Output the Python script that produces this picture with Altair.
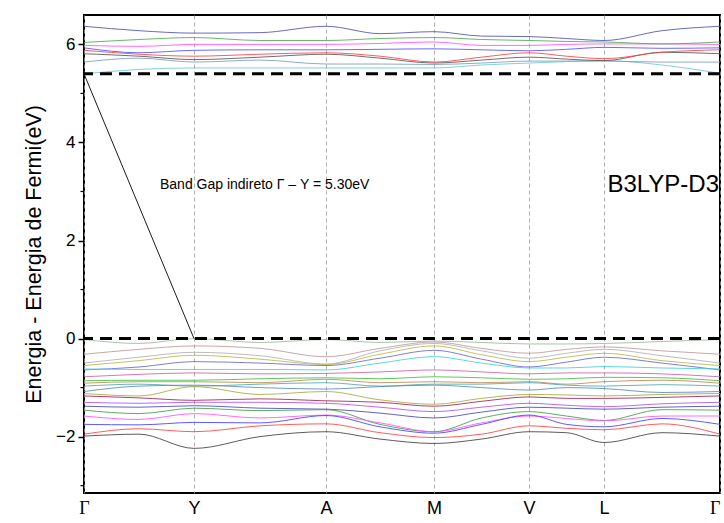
import altair as alt
import pandas as pd

# k-path positions (node + midpoints) and high-symmetry labels
k_points = [0, 55, 110, 176, 242, 296, 350, 397.5, 445, 482.5, 520, 578, 636]
sym_pos = [0, 110, 242, 350, 445, 520, 636]
sym_labels = ["Γ", "Y", "A", "M", "V", "L", "Γ"]

# conduction bands (eV), values at k_points
c1 = [5.40, 5.49, 5.52, 5.52, 5.52, 5.52, 5.52, 5.58, 5.62, 5.65, 5.67, 5.58, 5.41]
c2 = [5.64, 5.72, 5.64, 5.68, 5.60, 5.60, 5.59, 5.62, 5.66, 5.66, 5.66, 5.64, 5.64]
c3 = [5.81, 5.76, 5.69, 5.74, 5.80, 5.72, 5.62, 5.68, 5.74, 5.70, 5.67, 5.84, 5.81]
c4 = [5.88, 5.80, 5.76, 5.80, 5.83, 5.76, 5.64, 5.74, 5.83, 5.76, 5.71, 5.84, 5.89]
c5 = [5.93, 5.83, 5.88, 5.89, 5.89, 5.90, 5.91, 5.89, 5.87, 5.90, 5.94, 5.92, 5.93]
c6 = [5.98, 5.96, 6.00, 6.00, 6.00, 6.02, 6.05, 5.98, 5.98, 6.00, 6.01, 6.01, 6.00]
c7 = [6.04, 6.10, 6.14, 6.08, 6.08, 6.12, 6.14, 6.10, 6.08, 6.06, 6.05, 6.01, 6.05]
c8 = [6.37, 6.28, 6.23, 6.24, 6.37, 6.22, 6.26, 6.17, 6.16, 6.12, 6.08, 6.28, 6.37]

# valence bands (eV), values at k_points
v1 = [-0.02, -0.10, 0.00, -0.08, -0.02, -0.08, -0.05, -0.08, -0.11, -0.11, -0.10, -0.06, -0.02]
v2 = [-0.32, -0.22, -0.15, -0.20, -0.37, -0.20, -0.07, -0.20, -0.30, -0.22, -0.17, -0.25, -0.32]
v3 = [-0.50, -0.38, -0.28, -0.35, -0.52, -0.25, -0.10, -0.25, -0.40, -0.30, -0.22, -0.35, -0.50]
v4 = [-0.55, -0.45, -0.34, -0.42, -0.53, -0.32, -0.15, -0.33, -0.47, -0.38, -0.30, -0.45, -0.55]
v5 = [-0.64, -0.58, -0.47, -0.50, -0.55, -0.40, -0.24, -0.42, -0.58, -0.48, -0.38, -0.50, -0.64]
v6 = [-0.62, -0.63, -0.63, -0.63, -0.64, -0.50, -0.37, -0.50, -0.60, -0.60, -0.57, -0.60, -0.62]
v7 = [-0.78, -0.73, -0.70, -0.72, -0.71, -0.68, -0.64, -0.68, -0.72, -0.70, -0.70, -0.72, -0.78]
v8 = [-0.86, -0.85, -0.85, -0.82, -0.80, -0.82, -0.78, -0.80, -0.83, -0.82, -0.79, -0.80, -0.86]
v9 = [-0.91, -0.88, -0.88, -0.90, -0.83, -0.90, -0.88, -0.90, -0.88, -0.93, -0.88, -0.85, -0.91]
v10 = [-0.97, -0.93, -0.97, -0.93, -0.90, -0.97, -0.93, -0.93, -0.90, -0.95, -0.97, -0.94, -0.97]
v11 = [-1.08, -0.97, -0.95, -1.00, -1.03, -0.98, -0.95, -1.00, -1.05, -1.00, -1.02, -1.10, -1.08]
v12 = [-1.12, -1.17, -0.98, -1.14, -1.08, -1.25, -1.34, -1.22, -1.14, -1.15, -1.17, -1.14, -1.12]
v13 = [-1.17, -1.21, -1.26, -1.23, -1.27, -1.30, -1.38, -1.28, -1.19, -1.22, -1.22, -1.20, -1.17]
v14 = [-1.30, -1.32, -1.30, -1.30, -1.32, -1.40, -1.49, -1.40, -1.32, -1.36, -1.39, -1.33, -1.30]
v15 = [-1.38, -1.40, -1.37, -1.42, -1.44, -1.52, -1.62, -1.50, -1.40, -1.42, -1.44, -1.40, -1.38]
v16 = [-1.46, -1.53, -1.42, -1.47, -1.45, -1.75, -1.90, -1.62, -1.49, -1.58, -1.67, -1.45, -1.46]
v17 = [-1.58, -1.65, -1.53, -1.62, -1.56, -1.72, -1.90, -1.72, -1.58, -1.63, -1.68, -1.58, -1.58]
v18 = [-1.75, -1.76, -1.71, -1.72, -1.57, -1.80, -1.93, -1.75, -1.56, -1.75, -1.80, -1.63, -1.75]
v19 = [-1.95, -1.84, -1.90, -1.78, -1.74, -1.92, -2.02, -1.95, -1.78, -1.83, -1.86, -1.74, -1.95]
v20 = [-1.99, -1.95, -2.24, -2.00, -1.90, -2.05, -2.14, -2.05, -1.90, -1.92, -2.12, -1.92, -1.99]

bands = [v1, v2, v3, v4, v5, v6, v7, v8, v9, v10, v11, v12, v13, v14, v15, v16,
         v17, v18, v19, v20, c1, c2, c3, c4, c5, c6, c7, c8]
band_colors = ["#9cb89c", "#c09898", "#b0b0b0", "#b8b84a", "#6868c8", "#40d0d8",
               "#d060a0", "#40c040", "#c08850", "#50a8b0", "#5888c0", "#a8a840",
               "#a02050", "#b050f0", "#4848b8", "#40a040", "#ff50ff", "#4040ff",
               "#ff4040", "#404040",
               "#6ec6d8", "#7a9cc0", "#555555", "#ff4040", "#5050ff", "#ff50ff",
               "#50a850", "#5050b0"]

fermi_level = [0.0]
cbm_level = [5.40]
gap_k = [0, 110]
gap_e = [5.40, 0.0]
minor_ticks = [-3, -1, 1, 3, 5]

rows = []
for i, b in enumerate(bands):
    for k, e in zip(k_points, b):
        rows.append({"band": f"b{i:02d}", "k": k, "E": e})
df = pd.DataFrame(rows)
band_names = [f"b{i:02d}" for i in range(len(bands))]

xscale = alt.Scale(domain=[0, 636], nice=False, zero=False)
yscale = alt.Scale(domain=[-3.15, 6.6], nice=False, zero=False)

label_expr = ("datum.value == 0 || datum.value == 636 ? 'Γ' : datum.value == 110 ? 'Y' : "
              "datum.value == 242 ? 'A' : datum.value == 350 ? 'M' : "
              "datum.value == 445 ? 'V' : 'L'")

xaxis = alt.Axis(values=sym_pos, labelExpr=label_expr, title=None, grid=True,
                 gridDash=[4, 3], gridColor="#9a9a9a", gridWidth=0.8,
                 ticks=False, domain=False, labelFlush=False, labelFontSize=18,
                 labelColor="black", labelPadding=6,
                 labelAlign={"condition": {"test": "datum.value == 636", "value": "right"},
                             "value": "center"},
                 labelFont={"condition": {"test": "datum.value == 0 || datum.value == 636",
                                          "value": "Liberation Serif"},
                            "value": "Liberation Sans"})
yaxis = alt.Axis(values=[-2, 0, 2, 4, 6], title="Energia - Energia de Fermi(eV)",
                 grid=False, domain=False, tickSize=6, tickWidth=1.5, tickColor="black",
                 labelFontSize=17, labelFont="Liberation Sans", labelColor="black",
                 labelPadding=3, titleFontSize=21.5, titleFont="Liberation Sans",
                 titleFontWeight="normal", titleColor="black", titlePadding=10)

lines = alt.Chart(df).mark_line(interpolate="monotone", strokeWidth=1, opacity=0.85, clip=True).encode(
    x=alt.X("k:Q", scale=xscale, axis=xaxis),
    y=alt.Y("E:Q", scale=yscale, axis=yaxis),
    color=alt.Color("band:N", scale=alt.Scale(domain=band_names, range=band_colors), legend=None),
    detail="band:N",
)

hl_df = pd.DataFrame({"E": fermi_level + cbm_level})
hlines = alt.Chart(hl_df).mark_rule(color="black", strokeWidth=3, strokeDash=[12, 7]).encode(
    y=alt.Y("E:Q", scale=yscale),
)

gap_df = pd.DataFrame({"k": gap_k, "E": gap_e})
gap_line = alt.Chart(gap_df).mark_line(color="black", strokeWidth=0.9).encode(
    x=alt.X("k:Q", scale=xscale), y=alt.Y("E:Q", scale=yscale)
)

minor_df = pd.DataFrame({"E": minor_ticks})
minor = alt.Chart(minor_df).mark_rule(color="black", strokeWidth=1.2, clip=False).encode(
    y=alt.Y("E:Q", scale=yscale), x=alt.value(-3.5), x2=alt.value(0)
)

ann_df = pd.DataFrame({"k": [76], "E": [3.13], "t": ["Band Gap indireto Γ – Y = 5.30eV"]})
ann = alt.Chart(ann_df).mark_text(align="left", baseline="middle", fontSize=14,
                                  font="Liberation Sans", color="black").encode(
    x=alt.X("k:Q", scale=xscale), y=alt.Y("E:Q", scale=yscale), text="t:N"
)

lab_df = pd.DataFrame({"k": [635], "E": [3.13], "t": ["B3LYP-D3"]})
lab = alt.Chart(lab_df).mark_text(align="right", baseline="middle", fontSize=24,
                                  font="Liberation Sans", color="black").encode(
    x=alt.X("k:Q", scale=xscale), y=alt.Y("E:Q", scale=yscale), text="t:N"
)

chart = alt.layer(lines, hlines, gap_line, minor, ann, lab).properties(
    width=636, height=478,
    autosize=alt.AutoSizeParams(type="none"),
    padding={"left": 84, "top": 15, "right": 4, "bottom": 30},
    background="white",
).configure_view(stroke="black", strokeWidth=2)

chart.save("out.html", embed_options={"renderer": "svg", "actions": False})
